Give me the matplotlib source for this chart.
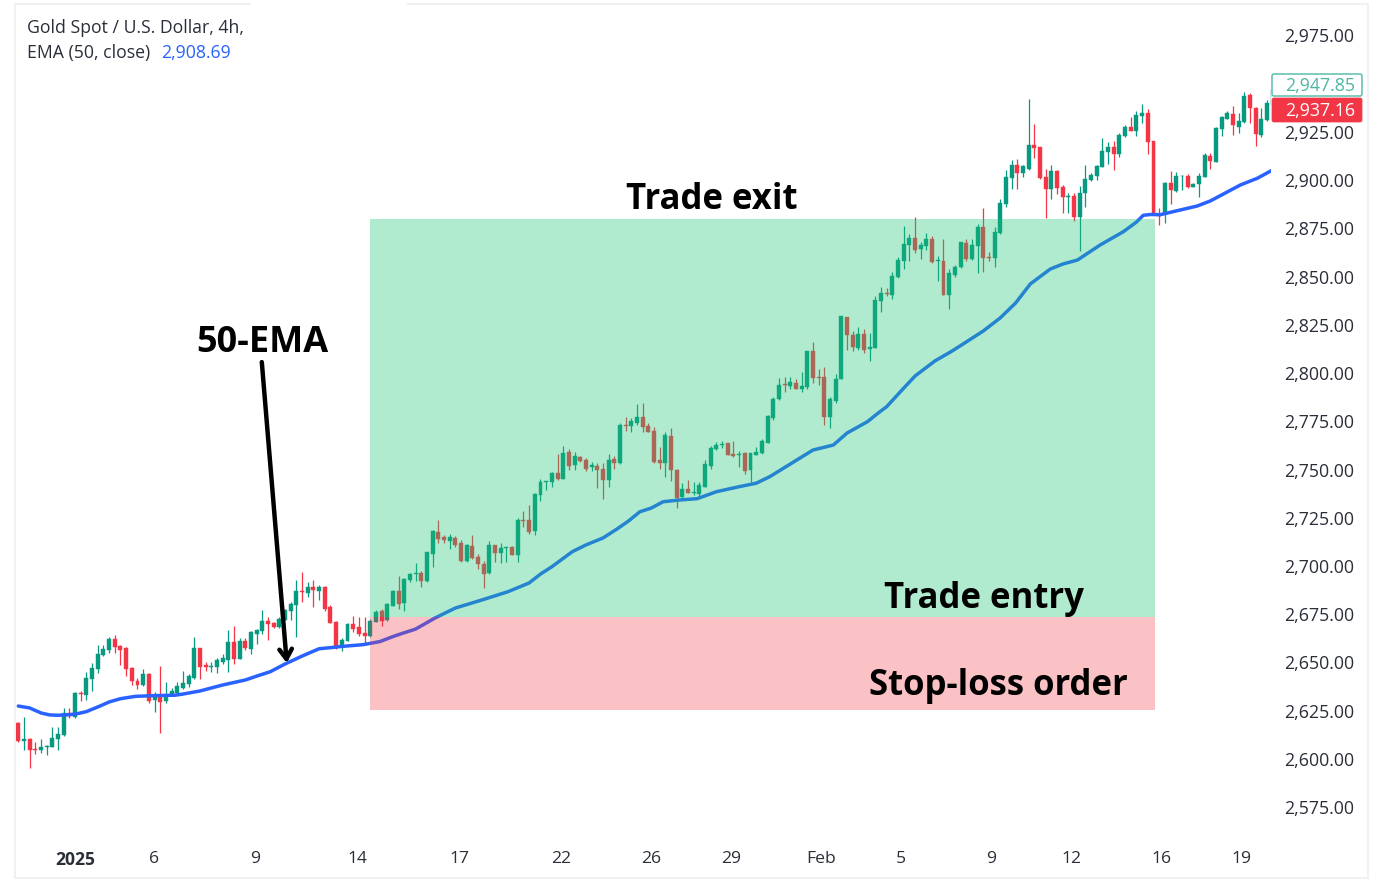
import numpy as np
import matplotlib
matplotlib.use("Agg")
import matplotlib.pyplot as plt
from matplotlib.patches import FancyBboxPatch
from matplotlib.transforms import IdentityTransform

opens = [2618.8,2609.4,2610.3,2605.1,2604.4,2606.1,2606.3,2610.5,2612.4,2623.9,
    2621.9,2634.3,2632.9,2641.6,2646.4,2653.7,2656.4,2662,2658.5,2657.3,
    2647.1,2640.4,2638.1,2644,2630.5,2632.9,2630.2,2632.9,2634.3,2637,
    2638.8,2641.7,2657.3,2648.5,2647.8,2647.8,2650.4,2651.2,2660.6,2651.9,
    2661.3,2657,2664.7,2666.1,2671.6,2670.2,2668.5,2672,2676.8,2679.8,
    2687.2,2685.8,2688.9,2687.2,2689.1,2678.5,2671.1,2657.8,2661.3,2669.7,
    2668.2,2665.4,2663.7,2671.1,2676.8,2672,2679.4,2686.8,2680.6,2692.7,
    2695.7,2696.5,2692.2,2706.2,2717.5,2714.9,2713.1,2714.5,2711.9,2702.6,
    2710.5,2704.7,2701,2696.2,2710.7,2706.9,2709.3,2710,2705.9,2723.8,
    2723.8,2718.1,2736.8,2743.7,2743.7,2748.4,2745.3,2759.3,2752.2,2756.7,
    2755,2751.1,2751.8,2750.1,2744.6,2755.3,2753.2,2773.1,2772.6,2773.9,
    2777.4,2772.6,2770,2754.9,2753.2,2767.5,2749.9,2735.6,2739.7,2738,
    2737.3,2741.1,2751.8,2760.5,2762.5,2763.6,2758,2757.3,2758.4,2749.7,
    2757.7,2758.7,2763.9,2776.6,2786.4,2794.4,2793.3,2795,2791.6,2792.6,
    2811.3,2797.8,2797.8,2777.1,2785.7,2796.9,2829.3,2819.9,2813,2820.1,
    2812.3,2813.2,2837.5,2841.7,2840.3,2849.6,2857.9,2866.6,2870,2864.1,
    2865.9,2869.5,2858.3,2858.3,2840.5,2850.7,2854.8,2867.3,2859,2866,
    2875.9,2860.3,2859.8,2872.4,2887.6,2901.1,2907.7,2903.5,2906,2918.2,
    2917,2901.5,2895.6,2904.9,2896.6,2891.5,2891.8,2881.1,2893.2,2900.1,
    2902.2,2907,2914.8,2917,2913.6,2922.9,2927.7,2925.7,2933.3,2935,
    2920.3,2882.5,2882.8,2898.3,2894.5,2902.1,2902.1,2896.6,2898,2901.8,
    2912.5,2909.6,2926.3,2931.9,2934.3,2927.7,2930,2944.1,2937.6,2923.2,2931.2,2939.1]
highs = [2619.3,2621.5,2610.6,2608.6,2610.5,2607.2,2616.7,2616.7,2626.5,2626.5,
    2634.8,2635.3,2644.8,2649.9,2659.2,2659.2,2663,2664.2,2658.8,2657.8,
    2647.4,2641.7,2646.4,2644.3,2634.5,2648.1,2640,2636.6,2640,2645.7,
    2644,2663,2657.3,2650.4,2650.4,2652.1,2654.2,2666.8,2669,2662.5,
    2662.5,2666.4,2667.1,2677.2,2673.7,2671.1,2673.7,2677.5,2681.5,2692.7,
    2697,2691.8,2692.7,2690.1,2689.4,2679.8,2671.5,2662.8,2670.6,2674,
    2673.4,2673.4,2672.3,2677.2,2677.9,2681,2687.5,2695,2693.8,2696.2,
    2701.4,2697.4,2707.4,2718.7,2723.8,2716.2,2716.4,2715.5,2713.5,2711.4,
    2716.2,2706.2,2702.6,2713.1,2711,2711.7,2710,2710.4,2724.7,2728.5,
    2731.6,2737.7,2745.1,2744.2,2748.9,2757.9,2762.4,2760.5,2759.3,2757,
    2755.8,2754.1,2753.5,2753.2,2758,2757,2774.3,2777.4,2776.5,2784,
    2784.6,2774.3,2771.9,2761.8,2769.6,2771.3,2750.3,2742.8,2744.6,2743.7,
    2743.7,2754.9,2762.4,2764.3,2765,2763.9,2765,2759.8,2759.3,2758.7,
    2761.8,2765.6,2778.3,2787.8,2797.6,2797.8,2798.2,2797,2800.4,2811.5,
    2816.3,2802,2803.3,2787.4,2799.5,2829.8,2829.3,2822,2823.7,2823,
    2820.6,2839.9,2844.4,2843.9,2852.6,2860.3,2876.2,2872.1,2881.1,2868.1,
    2872.4,2871,2860.7,2869.5,2853.8,2856.2,2868.1,2869.5,2869.3,2877.3,
    2885.4,2862.9,2875.5,2890.4,2905.3,2910.5,2910.8,2907.7,2941.9,2929,
    2917.4,2906,2907.7,2905.3,2897.5,2893.2,2893.5,2897,2907.9,2903.5,
    2907.7,2922,2920,2920.5,2924.3,2928.6,2932.9,2936,2939.5,2936.7,
    2920.5,2885.4,2899.2,2904.7,2904.4,2902.7,2903.2,2898.7,2903.9,2914.2,
    2913.9,2927.7,2933.3,2936,2938.4,2934.6,2945.9,2945,2938.1,2937.2,2941.5,2947.6]
lows = [2608.7,2604.6,2595.1,2602.5,2603.2,2602,2606.3,2604.6,2612,2621.2,
    2621.2,2630.2,2630.5,2635.3,2644.7,2653.3,2655,2655,2648.8,2643,
    2638.3,2636,2637.8,2629.1,2624.3,2613.6,2628.8,2632.6,2633.6,2636,
    2637.4,2641.6,2641.4,2645.7,2645.2,2644.3,2649.2,2645,2649,2651.6,
    2656.4,2654.4,2659.4,2664.7,2661.6,2668,2667.7,2672,2672,2663,
    2681.5,2683.7,2678.5,2682.3,2676.6,2670.2,2657.1,2655.7,2660.9,2665.9,
    2663.9,2659.5,2663.3,2670.8,2668.9,2671.6,2679.1,2677.5,2676.5,2691.7,
    2692.4,2689.3,2691.9,2699.7,2712.1,2711.8,2708.6,2709.7,2702.2,2702.2,
    2703.5,2698.4,2688.6,2695.9,2702.2,2701.7,2702.2,2705.5,2702.2,2720,
    2716.6,2715.9,2733.7,2739.4,2741.1,2744.6,2744.9,2749.8,2749.8,2754.1,
    2749.4,2749.1,2740.6,2734.7,2741.1,2750.1,2752.9,2770.1,2769.6,2773.1,
    2769.6,2769.3,2753.5,2750.1,2746.3,2744.2,2729.9,2735.1,2737.6,2736.8,
    2735.9,2740.8,2750.4,2760.1,2761.3,2757.3,2756.3,2751.1,2747.7,2743.7,
    2757.3,2758,2763.6,2775.7,2786,2790,2791.6,2791.6,2790.4,2791.9,
    2794.7,2793.7,2773.1,2771.4,2784.3,2796.8,2812,2811.5,2812,2810.3,
    2806.5,2812.8,2831.8,2839.9,2838.2,2849.3,2854.1,2857.9,2862.1,2859,
    2863.8,2857.2,2847.9,2840.5,2833,2850,2854.5,2858.3,2858.6,2851.7,
    2852.6,2858.3,2855.2,2872.1,2885.9,2895.6,2895.6,2901.8,2905.3,2911.3,
    2900.8,2880.6,2890.1,2892.8,2883.2,2883.2,2879,2863.5,2886.3,2899.7,
    2900.1,2906.6,2908.4,2905.3,2912.2,2922.5,2925.3,2922.9,2929.5,2913.6,
    2881.8,2876.8,2877.6,2887.6,2894,2894.9,2895.8,2896.3,2891.1,2901.5,
    2906,2909.2,2922.9,2931.5,2923.2,2924.6,2929.5,2929.8,2917.7,2922.5,2930.8,2938.8]
closes = [2609.2,2610.5,2604.4,2604.4,2606.1,2606.7,2611,2612.9,2623.9,2622.2,
    2634,2633.4,2642.1,2647.1,2654.4,2657.1,2662.3,2658.2,2656.4,2646.4,
    2640.4,2638.3,2643.8,2630.2,2632.9,2629.6,2632.6,2635.3,2637.8,2639.5,
    2643,2657.5,2647.8,2647.8,2648.1,2651.2,2652.1,2660.6,2651.6,2661.3,
    2657.5,2665.6,2666.8,2671.6,2669.9,2668.5,2672.5,2677.2,2680.3,2687.2,
    2686.5,2688.9,2687.5,2689.3,2677.5,2670.6,2657.6,2661.6,2669.9,2667.5,
    2664.7,2663.7,2671.6,2676.3,2671.6,2680.3,2687.2,2680.3,2693.4,2695.9,
    2696.4,2692.4,2707.1,2718,2713.8,2713.5,2715.2,2711,2702.6,2710.9,
    2704,2700.9,2695.9,2710.7,2706.9,2709.5,2709.8,2705.9,2723.8,2723.2,
    2717.8,2737.3,2743.4,2744.1,2748.4,2744.9,2758.8,2751.8,2757,2754.6,
    2750.1,2752.2,2749.7,2744.6,2755.1,2753.2,2773.1,2772.6,2775.3,2777.4,
    2771.9,2769.6,2754.1,2753.2,2767.7,2749.7,2735.4,2739.7,2738,2738.5,
    2742.1,2752.9,2761.3,2762.7,2763.2,2757.7,2757,2758,2749.4,2758.4,
    2759.2,2764.6,2777.9,2786.7,2794,2794,2795.2,2791.9,2793.3,2811.3,
    2797.3,2797.5,2777.1,2786.4,2797.1,2829.6,2819.6,2813.4,2820.1,2812,
    2813.7,2837.9,2841.7,2841,2850.3,2858.6,2866.9,2870.2,2863.8,2866.6,
    2869.5,2857.6,2858.6,2840.5,2851.7,2854.8,2867.8,2859,2866.4,2875.9,
    2859.5,2859.5,2873.3,2888,2901.5,2907.7,2903.5,2907.3,2918.2,2916.5,
    2901.1,2895.6,2904.6,2895.8,2891.1,2891.8,2881.1,2893.5,2900.4,2902.9,
    2907.3,2915.3,2917,2913.6,2923.3,2927.7,2925.7,2933.8,2935,2920,
    2881.9,2881.4,2898.7,2894.9,2902.1,2902.3,2896.6,2898,2902.1,2912.9,
    2910.1,2927,2932.6,2934.6,2928.6,2930.8,2943.8,2937.2,2923.9,2931.7,2939.8,2946.7]

# ema read every few candles
ema_idx = [0,2,4,5.5,7,9,10.5,12,14.4,16,18,20.6,24,27.6,29,32,36,40,42,44.4,47,50,53,55.5,57,60.7,63.7,66,67.8,70,
    73.4,77,81.7,86.3,90,92,94,97.6,100,103,105.5,107.5,109.5,111.5,113.6,116.5,119.6,123,127,130,132.4,140,143.6,146,
    149.6,151.5,153,155.4,158,161.5,164.5,167,170,173,175.7,178.3,181.8,184,186.6,190.6,194.7,197,198.2,199.5,201.2,203.5,207.7,210,215.3,218.3,221]
ema_vals = [2627.4,2626.4,2623.8,2622.8,2622.6,2622.9,2623.5,2624.5,2627.4,2629.5,2631.2,2632.4,2632.8,2633,2633.6,2635.2,
    2638.3,2640.9,2642.9,2645.2,2649.2,2653.3,2657.1,2657.8,2658.3,2659.2,2660.8,2663.4,2665.2,2667.3,2673,2678.2,2682.4,
    2686.7,2691.2,2695.8,2699.6,2707.4,2710.9,2714.5,2719.2,2723.3,2728.1,2730,2733.3,2734.2,2734.9,2738.5,2741.1,2742.9,2746.3,2760.1,
    2762.7,2768.9,2774.8,2779.3,2782.6,2790.3,2798.5,2806.3,2811.4,2816.1,2821.8,2828.6,2836.3,2846.2,2853.9,2856.5,2858.6,2866.4,2873.3,
    2878.3,2881.8,2882.2,2882.1,2883.7,2886.6,2889.2,2897.5,2901,2905.3]

price_ticks = [2575,2600,2625,2650,2675,2700,2725,2750,2775,2800,2825,2850,2875,2900,2925,2975]
date_pos = [10,24,41.8,59.8,77.8,95.6,111.5,125.5,141.5,155.5,171.4,185.5,201.4,215.5]
date_labels = ["2025","6","9","14","17","22","26","29","Feb","5","9","12","16","19"]

box_start, box_end = 62, 200.3
entry_price, exit_price, stop_price = 2673.5, 2880, 2625.3
last_bid, last_close = 2947.85, 2937.16

UP = "#089981"
DOWN = "#F23645"
TXT = "#2a2e39"
PX = IdentityTransform()

plt.rcParams["font.family"] = ["Open Sans", "DejaVu Sans"]

W, H = 1384, 894
fig = plt.figure(figsize=(W / 100, H / 100), dpi=100)
# axes box in pixels: 16..1271 across, 5..840 down
ax = fig.add_axes([16 / W, 1 - 840 / H, 1255 / W, 835 / H])
ax.set_xlim(-0.405, 220.7)
ax.set_ylim(2557.95, 2990.8)

x = np.arange(len(opens))
o = np.array(opens)
c = np.array(closes)
cols = [UP if b >= a else DOWN for a, b in zip(o, c)]

ax.vlines(x, lows, highs, colors=cols, linewidth=0.9, zorder=2)
ax.bar(x, np.abs(c - o), bottom=np.minimum(o, c), width=0.7, color=cols, linewidth=0.3,
       edgecolor=cols, zorder=2)
ax.plot(ema_idx, ema_vals, color="#2962FF", linewidth=2.5, zorder=3, solid_capstyle="round",
        solid_joinstyle="round")

# position tool boxes, see-through so candles show tinted
ax.fill_between([box_start, box_end], entry_price, exit_price, color="#1CC775", alpha=0.34, linewidth=0, zorder=4)
ax.fill_between([box_start, box_end], stop_price, entry_price, color="#F23645", alpha=0.30, linewidth=0, zorder=4)

ax.annotate("", xy=(47.3, 2649.7), xytext=(42.9, 2805.7),
            arrowprops=dict(arrowstyle="->,head_length=0.7,head_width=0.45", color="black", lw=3.2,
                            shrinkA=0, shrinkB=0), zorder=6)

bold = dict(fontweight="bold", color="black", family="Open Sans", zorder=6, ha="center", va="center",
            transform=PX)
ax.text(712, H - 200, "Trade exit", fontsize=25, **bold)
ax.text(984, H - 599, "Trade entry", fontsize=25, **bold)
ax.text(998, H - 686, "Stop-loss order", fontsize=25, **bold)
ax.text(262, H - 343, "50-EMA", fontsize=26, **bold)

ax.set_xticks(date_pos)
ax.set_xticklabels(date_labels, fontsize=12.6, color=TXT)
ax.get_xticklabels()[0].set_fontweight("bold")
ax.tick_params(axis="x", length=0, pad=8)
ax.set_yticks(price_ticks)
ax.set_yticklabels([f"{p:,.2f}" for p in price_ticks], fontsize=12.8, color=TXT)
ax.yaxis.tick_right()
ax.tick_params(axis="y", length=0, pad=9.5)
for s in ax.spines.values():
    s.set_visible(False)

# header text
fig.text(27 / W, 1 - 28 / H, "Gold Spot / U.S. Dollar, 4h,", fontsize=12.7, color=TXT, va="center")
fig.text(27 / W, 1 - 53 / H, "EMA (50, close)", fontsize=12.7, color=TXT, va="center")
fig.text(161 / W, 1 - 53 / H, "2,908.69", fontsize=12.7, color="#2962FF", va="center")

# last price tags on the scale
fig.add_artist(FancyBboxPatch((1272, H - 96), 90, 22, boxstyle="round,pad=0,rounding_size=2", fc="white",
                              ec="#5BBFAD", lw=1.1, transform=PX))
fig.add_artist(FancyBboxPatch((1272, H - 122), 90, 24, boxstyle="round,pad=0,rounding_size=2", fc=DOWN,
                              ec=DOWN, lw=0.5, transform=PX))
fig.text(1320, H - 86, f"{last_bid:,.2f}", fontsize=12.8, color="#4DB6A2", ha="center", va="center", transform=PX)
fig.text(1320, H - 111, f"{last_close:,.2f}", fontsize=12.8, color="white", ha="center", va="center", transform=PX)

# screenshot frame
frame = "#f0f1f4"
for xs, ys in [((15, 15), (5, 878)), ((1368, 1368), (5, 878)), ((15, 1368), (878, 878)),
               ((15, 250), (4, 4)), ((408, 1368), (4, 4))]:
    fig.add_artist(plt.Line2D([v / W for v in xs], [1 - v / H for v in ys], color=frame, lw=1.4))

fig.savefig("out.png", dpi=100)
